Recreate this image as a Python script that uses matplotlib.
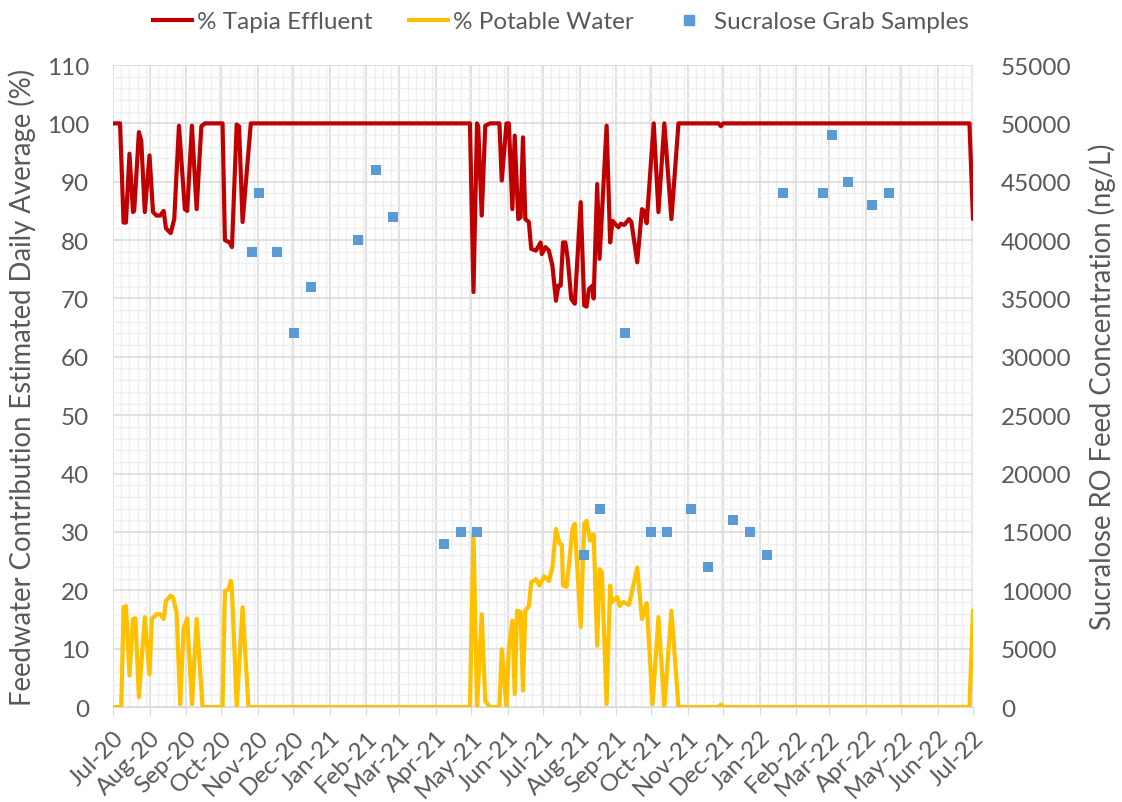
import matplotlib

matplotlib.use("Agg")
import matplotlib.dates as mdates  # noqa: E402
import matplotlib.pyplot as plt  # noqa: E402
import pandas as pd  # noqa: E402
from matplotlib.lines import Line2D  # noqa: E402
from matplotlib.ticker import MultipleLocator  # noqa: E402

plt.rcParams.update({"font.family": ["Lato", "DejaVu Sans"], "font.size": 16})

GREY = "#595959"
RED = "#C00000"
YELLOW = "#FFC000"
BLUE = "#5B9BD5"

# % Tapia effluent (estimated daily average)
tapia_dates = [
    "2020-07-01", "2020-07-07", "2020-07-10", "2020-07-12", "2020-07-15", "2020-07-18",
    "2020-07-19", "2020-07-23", "2020-07-25", "2020-07-28", "2020-08-01", "2020-08-04",
    "2020-08-07", "2020-08-10", "2020-08-13", "2020-08-15", "2020-08-19", "2020-08-22",
    "2020-08-26", "2020-08-31", "2020-09-02", "2020-09-06", "2020-09-10", "2020-09-14",
    "2020-09-17", "2020-10-02", "2020-10-04", "2020-10-08", "2020-10-10", "2020-10-14",
    "2020-10-16", "2020-10-19", "2020-10-26", "2021-04-30", "2021-05-03", "2021-05-06",
    "2021-05-07", "2021-05-10", "2021-05-13", "2021-05-17", "2021-05-25", "2021-05-27",
    "2021-05-31", "2021-06-02", "2021-06-05", "2021-06-07", "2021-06-10", "2021-06-12",
    "2021-06-14", "2021-06-16", "2021-06-19", "2021-06-21", "2021-06-25", "2021-06-29",
    "2021-06-30", "2021-07-03", "2021-07-06", "2021-07-09", "2021-07-12", "2021-07-14",
    "2021-07-16", "2021-07-18", "2021-07-20", "2021-07-22", "2021-07-25", "2021-07-28",
    "2021-08-02", "2021-08-05", "2021-08-07", "2021-08-09", "2021-08-12", "2021-08-13",
    "2021-08-16", "2021-08-18", "2021-08-24", "2021-08-27", "2021-08-29", "2021-09-01",
    "2021-09-03", "2021-09-05", "2021-09-08", "2021-09-12", "2021-09-14", "2021-09-19",
    "2021-09-23", "2021-09-25", "2021-09-27", "2021-10-03", "2021-10-07", "2021-10-12",
    "2021-10-18", "2021-10-24", "2021-11-27", "2021-11-29", "2021-12-01", "2022-06-28",
    "2022-07-01",
]
tapia_pct = [
    100, 100, 83, 83, 94.8, 84.8,
    85, 98.5, 97, 84.8, 94.5, 84.8,
    84.2, 84.2, 85, 82, 81.2, 83.6,
    99.6, 85.3, 85, 99.6, 85.3, 99.5,
    100, 100, 80, 79.6, 78.8, 99.8,
    99.5, 83.1, 100, 100, 71.1, 100,
    99.5, 84.2, 99.6, 100, 100, 90.2,
    100, 100, 85.3, 97.9, 83.6, 83.9,
    97.6, 83.6, 83.1, 78.5, 78.2, 79.6,
    77.6, 78.8, 78.2, 75.6, 69.6, 72.2,
    72.2, 79.6, 79.6, 76.8, 69.9, 69.1,
    86.5, 68.8, 68.6, 71.6, 72.2, 70,
    89.6, 76.8, 99.6, 79.6, 83.3, 82.6,
    82.2, 82.8, 82.6, 83.6, 83.1, 76.2,
    85.3, 85, 82.9, 100, 84.8, 100,
    83.6, 100, 100, 99.5, 100, 100,
    83.6,
]

# % potable water
potable_dates = [
    "2020-07-01", "2020-07-08", "2020-07-10", "2020-07-12", "2020-07-15", "2020-07-18",
    "2020-07-20", "2020-07-23", "2020-07-28", "2020-08-01", "2020-08-03", "2020-08-07",
    "2020-08-10", "2020-08-13", "2020-08-15", "2020-08-19", "2020-08-21", "2020-08-24",
    "2020-08-27", "2020-08-30", "2020-09-02", "2020-09-06", "2020-09-10", "2020-09-15",
    "2020-10-02", "2020-10-04", "2020-10-07", "2020-10-09", "2020-10-10", "2020-10-14",
    "2020-10-19", "2020-10-24", "2021-04-30", "2021-05-03", "2021-05-06", "2021-05-10",
    "2021-05-13", "2021-05-17", "2021-05-25", "2021-05-27", "2021-05-31", "2021-06-02",
    "2021-06-05", "2021-06-07", "2021-06-09", "2021-06-12", "2021-06-14", "2021-06-16",
    "2021-06-19", "2021-06-21", "2021-06-25", "2021-06-28", "2021-07-02", "2021-07-06",
    "2021-07-09", "2021-07-12", "2021-07-15", "2021-07-17", "2021-07-18", "2021-07-21",
    "2021-07-23", "2021-07-26", "2021-07-28", "2021-08-02", "2021-08-05", "2021-08-07",
    "2021-08-10", "2021-08-13", "2021-08-16", "2021-08-18", "2021-08-20", "2021-08-24",
    "2021-08-27", "2021-08-28", "2021-09-02", "2021-09-04", "2021-09-07", "2021-09-12",
    "2021-09-19", "2021-09-23", "2021-09-27", "2021-10-02", "2021-10-07", "2021-10-12",
    "2021-10-18", "2021-10-24", "2021-11-27", "2021-11-29", "2021-12-01", "2022-06-28",
    "2022-07-01",
]
potable_pct = [
    0, 0, 17.1, 17.3, 5.4, 15.1,
    15.2, 1.7, 15.4, 5.6, 15.1, 15.9,
    15.9, 15.1, 18.2, 19.1, 18.7, 16.2,
    0.5, 13.4, 15.2, 0.5, 15.1, 0,
    0, 19.9, 20.1, 21.6, 20, 0,
    17.1, 0, 0, 29.9, 0, 15.9,
    1, 0, 0, 9.9, 0, 10.2,
    14.8, 2.2, 16.5, 16.3, 2.8, 16.5,
    17.3, 21.4, 21.9, 20.8, 22.4, 21.6,
    23.9, 30.5, 28, 27.8, 20.8, 20.6,
    24.2, 30.5, 31.4, 13.7, 31.4, 31.9,
    28.5, 29.6, 10.5, 23.6, 23.1, 0.5,
    20.8, 17.9, 18.8, 17.3, 18, 17.5,
    23.9, 15.1, 17.8, 0.5, 15.4, 0,
    16.5, 0, 0, 0.4, 0, 0,
    16.5,
]

# sucralose grab samples, RO feed (ng/L)
grab_dates = [
    "2020-10-27", "2020-11-02", "2020-11-17", "2020-12-02", "2020-12-16", "2021-01-25",
    "2021-02-09", "2021-02-24", "2021-04-08", "2021-04-22", "2021-05-06", "2021-08-05",
    "2021-08-18", "2021-09-09", "2021-10-01", "2021-10-14", "2021-11-04", "2021-11-18",
    "2021-12-09", "2021-12-24", "2022-01-07", "2022-01-21", "2022-02-24", "2022-03-03",
    "2022-03-17", "2022-04-06", "2022-04-21",
]
grab_ngl = [
    39000, 44000, 39000, 32000, 36000, 40000,
    46000, 42000, 14000, 15000, 15000, 13000,
    17000, 32000, 15000, 15000, 17000, 12000,
    16000, 15000, 13000, 44000, 44000, 49000,
    45000, 43000, 44000,
]

fig = plt.figure(figsize=(11.22, 8.03), dpi=100)
ax = fig.add_axes([0.1007, 0.1183, 0.7665, 0.7995])
ax2 = ax.twinx()

line_kw = dict(linewidth=3.0, solid_joinstyle="round", solid_capstyle="round", zorder=3)
ax.plot(pd.to_datetime(tapia_dates), tapia_pct, color=RED, **line_kw)
ax.plot(pd.to_datetime(potable_dates), potable_pct, color=YELLOW, **line_kw)
ax2.scatter(pd.to_datetime(grab_dates), grab_ngl, marker="s", s=52, color=BLUE,
            edgecolors="none", zorder=4)

start, end = pd.Timestamp("2020-07-01"), pd.Timestamp("2022-07-01")
ax.set_xlim(start, end)
ax.set_ylim(0, 110)
ax2.set_ylim(0, 55000)

ax.xaxis.set_major_locator(mdates.MonthLocator())
ax.xaxis.set_major_formatter(mdates.DateFormatter("%b-%y"))
ax.xaxis.set_minor_locator(mdates.DayLocator(bymonthday=[8, 15, 22, 29]))
ax.yaxis.set_major_locator(MultipleLocator(10))
ax.yaxis.set_minor_locator(MultipleLocator(2))
ax2.yaxis.set_major_locator(MultipleLocator(5000))

ax.grid(which="major", color="#d9d9d9", linewidth=1.1, zorder=0)
ax.grid(which="minor", color="#efefef", linewidth=1.0, zorder=0)
ax.set_axisbelow(True)

for a in (ax, ax2):
    for s in a.spines.values():
        s.set_visible(False)
ax.spines["bottom"].set_visible(True)
ax.spines["bottom"].set_color("#d9d9d9")

ax.tick_params(axis="y", which="both", length=0, pad=17, labelcolor=GREY, labelsize=17.5)
ax2.tick_params(axis="y", which="both", length=0, pad=20, labelcolor=GREY, labelsize=17.5)
ax.tick_params(axis="x", which="major", length=6, color="#d9d9d9", labelcolor=GREY,
               labelsize=17.5, pad=8)
ax.tick_params(axis="x", which="minor", length=0)
for lbl in ax.get_xticklabels():
    lbl.set_rotation(45)
    lbl.set_ha("right")
    lbl.set_rotation_mode("anchor")

ax.set_ylabel("Feedwater Contribution Estimated Daily Average (%)", color=GREY,
              fontsize=19.8, labelpad=8)
ax2.set_ylabel("Sucralose RO Feed Concentration (ng/L)", color=GREY, fontsize=19.8,
               labelpad=12)

handles = [
    Line2D([], [], color=RED, linewidth=3),
    Line2D([], [], color=YELLOW, linewidth=3),
    Line2D([], [], color=BLUE, marker="s", linestyle="none", markersize=7),
]
fig.legend(handles, ["% Tapia Effluent", "% Potable Water", "Sucralose Grab Samples"],
           loc="upper center", bbox_to_anchor=(0.5, 1.012), ncol=3, frameon=False,
           fontsize=17.5, labelcolor=GREY, handlelength=1.6, handletextpad=0.2,
           columnspacing=1.5)

fig.savefig("out.png", dpi=100)
